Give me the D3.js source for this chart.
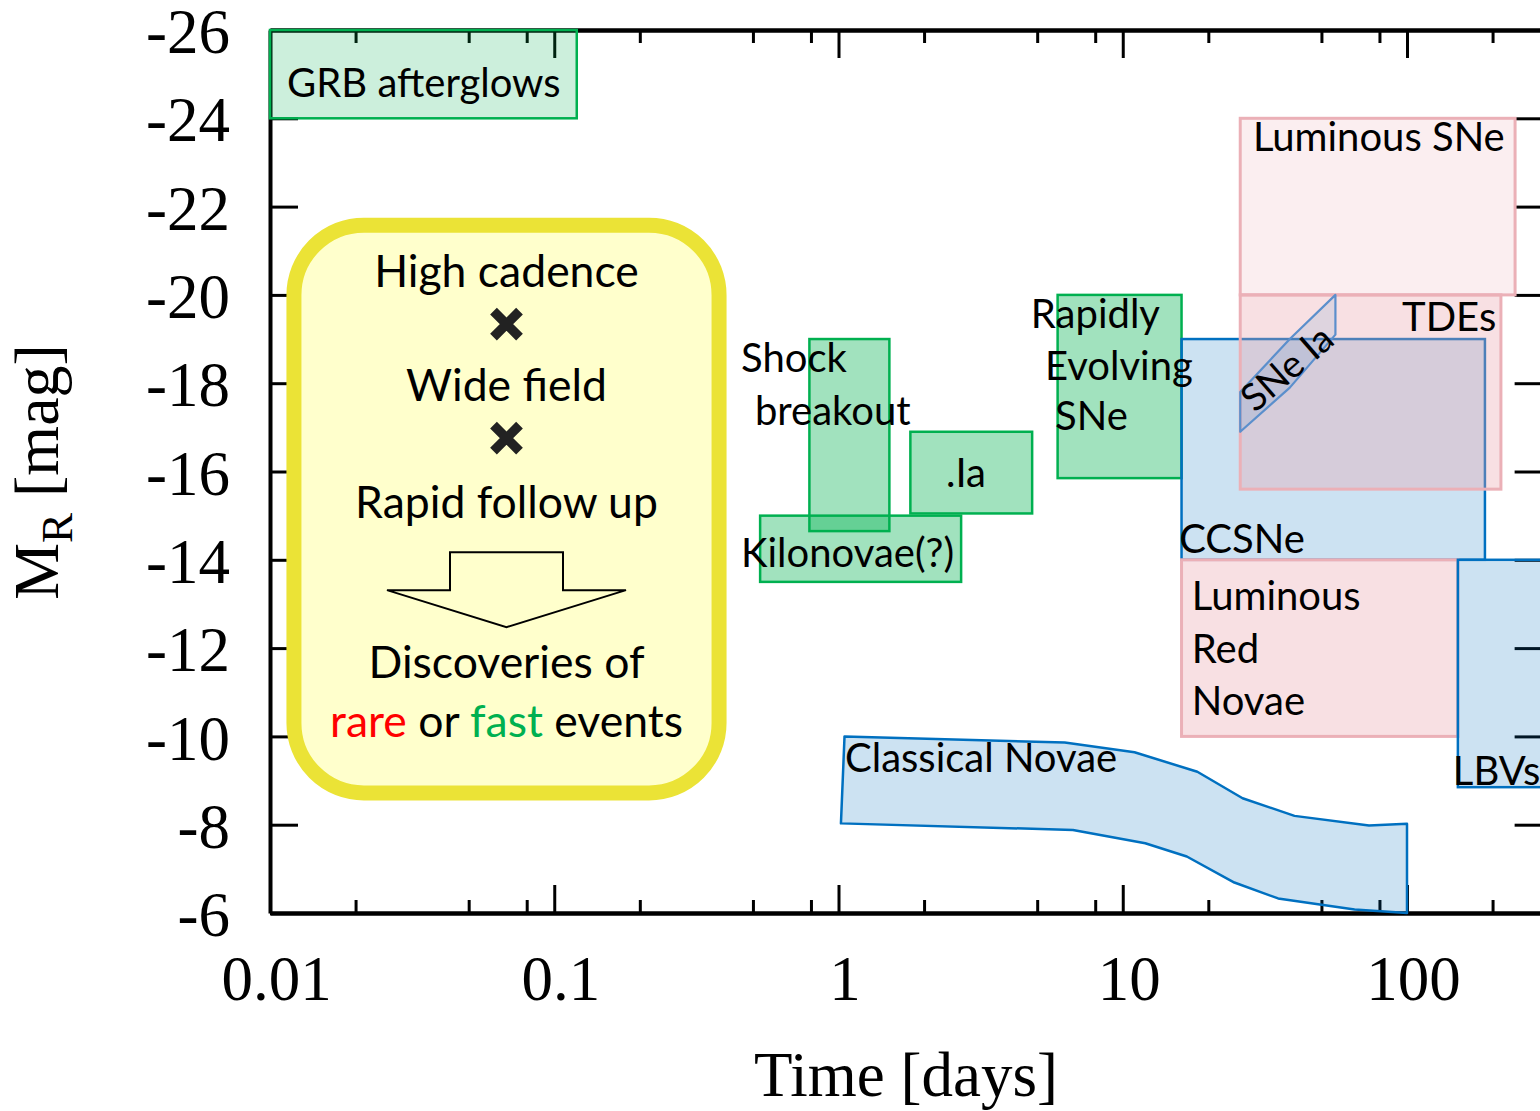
<!DOCTYPE html>
<html>
<head>
<meta charset="utf-8">
<script src="https://cdn.jsdelivr.net/npm/d3@7"></script>
<style>
  html, body { margin: 0; padding: 0; background: #ffffff; }
  svg { display: block; }
  .tick-label text, .axis-title { font-family: "Liberation Serif", "Times New Roman", serif; fill: #000; }
  .lbl { font-family: Lato, "Open Sans", sans-serif; fill: #000; }
</style>
</head>
<body>
<svg id="chart" width="1540" height="1111"></svg>
<script>
// ---- axis ticks ----
const xMajorTicks = [0.01, 0.1, 1, 10, 100];
const xMajorLabels = ["0.01", "0.1", "1", "10", "100"];
const xMinorSteps = [2, 5, 8];
const yTicks = [-26, -24, -22, -20, -18, -16, -14, -12, -10, -8, -6];
const yTickLabels = ["-26", "-24", "-22", "-20", "-18", "-16", "-14", "-12", "-10", "-8", "-6"];

// ---- transient classes: duration range [days] and peak magnitude range ----
const boxNames      = ["GRB afterglows", "Kilonovae(?)", "Shock breakout", ".Ia", "Rapidly Evolving SNe",
                       "CCSNe", "TDEs", "Luminous SNe", "Luminous Red Novae", "LBVs"];
const boxTimeStart  = [0.01, 0.53, 0.79, 1.79, 5.9, 16.1, 25.9, 25.9, 16.1, 151];
const boxTimeEnd    = [0.12, 2.7, 1.51, 4.8, 16.1, 188, 214, 240, 151, 400];
const boxMagBright  = [-26, -15, -19, -16.9, -20, -19, -20, -24, -14, -14];
const boxMagFaint   = [-24, -13.5, -14.65, -15.05, -15.85, -14, -15.6, -20, -10, -8.85];
const boxFamily     = ["greenLight", "green", "green", "green", "green",
                       "blue", "pink", "pinkLight", "pink", "blue"];

// ---- Type Ia supernovae band ----
const snIaTime = [25.9, 38.7, 56, 56, 38.7, 25.9];
const snIaMag  = [-17.8, -19.0, -20.0, -19.1, -17.9, -16.9];

// ---- classical novae band (upper edge, then lower edge back) ----
const novaUpperTime = [1.05, 6.25, 11.0, 18.3, 26.4, 40.2, 73.5, 100];
const novaUpperMag  = [-10.0, -9.86, -9.64, -9.2, -8.6, -8.2, -7.98, -8.02];
const novaLowerTime = [100, 65.4, 35.2, 24.7, 16.8, 12.0, 6.68, 1.02];
const novaLowerMag  = [-6.0, -6.08, -6.33, -6.69, -7.28, -7.58, -7.88, -8.03];

// ---- text labels: anchor time, anchor magnitude ----
const labelText   = ["GRB afterglows", "Shock", "breakout", ".Ia", "Kilonovae(?)", "Rapidly", "Evolving", "SNe",
                     "CCSNe", "Luminous", "Red", "Novae", "Luminous SNe", "TDEs", "LBVs", "Classical Novae"];
const labelTime   = [0.01148, 0.454, 0.508, 2.81, 0.454, 4.75, 5.33, 5.78,
                     15.8, 17.5, 17.5, 17.5, 28.7, 206, 145, 1.054];
const labelMag    = [-24.48, -18.25, -17.05, -15.65, -13.84, -19.25, -18.07, -16.94,
                     -14.15, -12.86, -11.66, -10.48, -23.26, -19.18, -8.90, -9.19];
const labelAnchor = ["start", "start", "start", "middle", "start", "start", "start", "start",
                     "start", "start", "start", "start", "start", "end", "start", "start"];

// ---- summary panel ----
const panelTime = [0.01214, 0.38];
const panelMag  = [-21.58, -8.72];

const svg = d3.select("#chart");
const x = d3.scaleLog().domain([0.01, 300]).range([270, 270 + 284.25 * Math.log10(300 / 0.01)]);
const y = d3.scaleLinear().domain([-26, -6]).range([30, 913]);

const styles = {
  green:      { fill: "#00b050", fo: 0.37, stroke: "#00b050", sw: 2.5 },
  greenLight: { fill: "#00b050", fo: 0.20, stroke: "#00b050", sw: 2.5 },
  blue:       { fill: "#0070c0", fo: 0.20, stroke: "#0070c0", sw: 2.5 },
  pink:       { fill: "rgb(234,162,171)", fo: 0.33, stroke: "#ebb0b7", sw: 3 },
  pinkLight:  { fill: "rgb(234,162,171)", fo: 0.18, stroke: "#ebb0b7", sw: 3 }
};

// ---- axes ----
const minorTicks = [];
for (let d = 0.01; d <= 100; d *= 10) xMinorSteps.forEach(m => { const v = d * m; if (v < 300) minorTicks.push(v); });
const [x0, x1] = x.range();

const axes = svg.append("g");
function styleAxis(g, label) {
  g.select(".domain").attr("stroke", "#000").attr("stroke-width", 4);
  g.selectAll(".tick line").attr("stroke", "#000").attr("stroke-width", 3);
  if (label) g.selectAll(".tick text").attr("font-family", "Liberation Serif, serif").attr("font-size", 63).attr("fill", "#000");
}
axes.append("g").attr("transform", `translate(0,${y(-6)})`)
  .call(d3.axisBottom(x).tickValues(xMajorTicks).tickFormat((d, i) => xMajorLabels[i])
    .tickSizeInner(-28).tickSizeOuter(0).tickPadding(42))
  .call(g => { styleAxis(g, true); g.selectAll(".tick text").attr("dx", 6); });
axes.append("g").attr("transform", `translate(0,${y(-6)})`)
  .call(d3.axisBottom(x).tickValues(minorTicks).tickFormat("").tickSizeInner(-13).tickSizeOuter(0))
  .call(g => styleAxis(g, false));
axes.append("g").attr("transform", `translate(0,${y(-26)})`)
  .call(d3.axisTop(x).tickValues(xMajorTicks).tickFormat("").tickSizeInner(-28).tickSizeOuter(0))
  .call(g => styleAxis(g, false));
axes.append("g").attr("transform", `translate(0,${y(-26)})`)
  .call(d3.axisTop(x).tickValues(minorTicks).tickFormat("").tickSizeInner(-13).tickSizeOuter(0))
  .call(g => styleAxis(g, false));
axes.append("g").attr("transform", `translate(${x0},0)`)
  .call(d3.axisLeft(y).tickValues(yTicks).tickFormat((d, i) => yTickLabels[i])
    .tickSizeInner(-28).tickSizeOuter(0).tickPadding(40))
  .call(g => { styleAxis(g, true); g.selectAll(".tick text").attr("dy", "0.36em"); });
axes.append("g").attr("transform", `translate(${x1},0)`)
  .call(d3.axisRight(y).tickValues(yTicks).tickFormat("").tickSizeInner(-28).tickSizeOuter(0))
  .call(g => styleAxis(g, false));

// ---- class boxes ----
const boxes = boxNames.map((n, i) => ({
  name: n, t0: boxTimeStart[i], t1: boxTimeEnd[i], mb: boxMagBright[i], mf: boxMagFaint[i], fam: boxFamily[i]
}));
svg.append("g").selectAll("rect").data(boxes).join("rect")
  .attr("x", d => x(d.t0)).attr("y", d => y(d.mb))
  .attr("width", d => x(d.t1) - x(d.t0)).attr("height", d => y(d.mf) - y(d.mb))
  .attr("fill", d => styles[d.fam].fill).attr("fill-opacity", d => styles[d.fam].fo)
  .attr("stroke", d => styles[d.fam].stroke).attr("stroke-width", d => styles[d.fam].sw);

// ---- SNe Ia band ----
const snIa = snIaTime.map((t, i) => [x(t), y(snIaMag[i])]);
svg.append("path").attr("d", d3.line()(snIa) + "Z")
  .attr("fill", "#0070c0").attr("fill-opacity", 0.1)
  .attr("stroke", "#5b8fcc").attr("stroke-width", 2.2).attr("stroke-linejoin", "round");

// ---- classical novae band ----
const nova = novaUpperTime.map((t, i) => [x(t), y(novaUpperMag[i])])
  .concat(novaLowerTime.map((t, i) => [x(t), y(novaLowerMag[i])]));
svg.append("path").attr("d", d3.line()(nova) + "Z")
  .attr("fill", "#0070c0").attr("fill-opacity", 0.2)
  .attr("stroke", "#0070c0").attr("stroke-width", 2.5).attr("stroke-linejoin", "round");

// ---- labels ----
svg.append("g").selectAll("text").data(labelText).join("text")
  .attr("class", "lbl")
  .attr("x", (d, i) => x(labelTime[i])).attr("y", (d, i) => y(labelMag[i]))
  .attr("text-anchor", (d, i) => labelAnchor[i])
  .attr("font-size", 40)
  .attr("fill", d => d === "Luminous SNe" ? "#2b2222" : "#000")
  .text(d => d);

svg.append("text").attr("class", "lbl")
  .attr("transform", `translate(${x(37.8)},${y(-18.34)}) rotate(-41)`)
  .attr("text-anchor", "middle").attr("dy", "0.35em").attr("font-size", 38)
  .text("SNe Ia");

// ---- summary panel ----
const px0 = x(panelTime[0]), px1 = x(panelTime[1]);
const py0 = y(panelMag[0]), py1 = y(panelMag[1]);
const pw = px1 - px0, cx = (px0 + px1) / 2;
const panel = svg.append("g");
panel.append("rect").attr("x", px0).attr("y", py0).attr("width", pw).attr("height", py1 - py0)
  .attr("rx", 70).attr("ry", 70)
  .attr("fill", "#ffffcc").attr("stroke", "#ebe336").attr("stroke-width", 15);

const lineRows = [
  { dy: 62, parts: [["High cadence", "#000"]] },
  { dy: 176, parts: [["Wide field", "#000"]] },
  { dy: 293, parts: [["Rapid follow up", "#000"]] },
  { dy: 453, parts: [["Discoveries of", "#000"]] },
  { dy: 512, parts: [["rare", "#ff0000"], [" or ", "#000"], ["fast", "#00b050"], [" events", "#000"]] }
];
lineRows.forEach(r => {
  const t = panel.append("text").attr("class", "lbl").attr("x", cx).attr("y", py0 + r.dy)
    .attr("text-anchor", "middle").attr("font-size", 44.5);
  r.parts.forEach(p => t.append("tspan").attr("fill", p[1]).text(p[0]));
});

// multiplication marks
[99, 213].forEach(dy => {
  const c = py0 + dy, s = 13;
  panel.append("path")
    .attr("d", `M${cx - s},${c - s}L${cx + s},${c + s}M${cx + s},${c - s}L${cx - s},${c + s}`)
    .attr("stroke", "#222").attr("stroke-width", 9.5).attr("stroke-linecap", "butt");
});

// block arrow
const aTop = py0 + 327, aSh = py0 + 365, aTip = py0 + 402, stem = 56.5, head = 119.5;
panel.append("path")
  .attr("d", `M${cx - stem},${aTop}L${cx + stem},${aTop}L${cx + stem},${aSh}L${cx + head},${aSh}` +
             `L${cx},${aTip}L${cx - head},${aSh}L${cx - stem},${aSh}Z`)
  .attr("fill", "#ffffcc").attr("stroke", "#000").attr("stroke-width", 2);

// ---- axis titles ----
svg.append("text").attr("class", "axis-title")
  .attr("x", 906).attr("y", 1096).attr("text-anchor", "middle").attr("font-size", 63)
  .text("Time [days]");

const yt = svg.append("text").attr("class", "axis-title")
  .attr("transform", "translate(58,472) rotate(-90)")
  .attr("text-anchor", "middle").attr("font-size", 64);
yt.append("tspan").text("M");
yt.append("tspan").attr("font-size", 45).attr("dy", 14).text("R");
yt.append("tspan").attr("dy", -14).text(" [mag]");
</script>
</body>
</html>
